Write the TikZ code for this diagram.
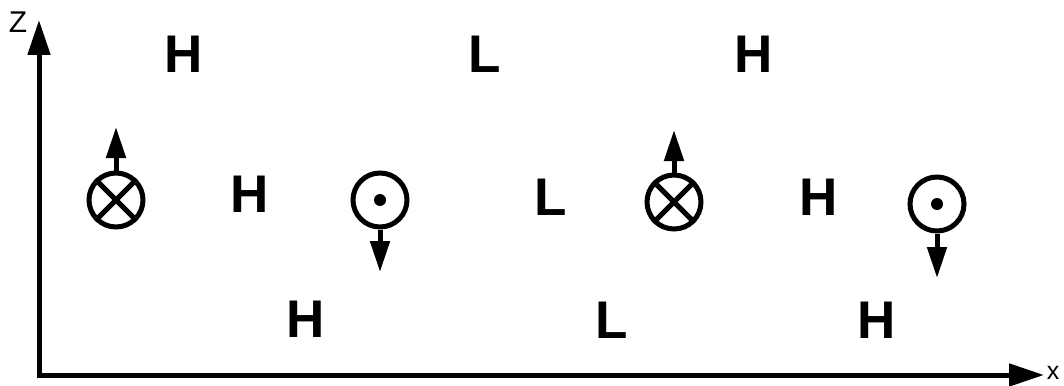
\documentclass[tikz,border=0pt]{standalone}
\usepackage{fontspec}
\setmainfont{Liberation Sans}
\usetikzlibrary{arrows.meta}
\tikzset{
  axis/.style={line width=5pt, -{Triangle[length=35pt,width=22pt]}},
  fieldarrow/.style={line width=5pt, -{Triangle[length=31pt,width=19pt]}},
  ring/.style={circle, draw, line width=5pt, minimum size=54pt, inner sep=0pt},
  big/.style={inner sep=0pt, font=\fontsize{53}{53}\selectfont\bfseries},
  axlabel/.style={inner sep=0pt, font=\fontsize{30}{30}\selectfont},
}
\begin{document}
\begin{tikzpicture}[x=1pt,y=-1pt]
\useasboundingbox (0,0) rectangle (1064,385);
% axes
\coordinate (o) at (39,375);
\coordinate (ztip) at (39,20);
\coordinate (xtip) at (1044,375);
\draw[axis] (o) -- (ztip);
\draw[axis] ([xshift=-2.5pt]o) -- (xtip);
\node[axlabel] (zl) at (18,22) {Z};
\node[axlabel, font=\fontsize{25}{25}\selectfont] (xl) at (1053,373) {x};
% letters
\node[big] (h1) at (184,54) {H};
\node[big] (l1) at (485,54) {L};
\node[big] (h2) at (754,54) {H};
\node[big] (h3) at (250,194) {H};
\node[big] (l2) at (551,197) {L};
\node[big] (h4) at (819,197) {H};
\node[big] (h5) at (306,319) {H};
\node[big] (l3) at (612,320) {L};
\node[big] (h6) at (877,320) {H};
% circles
\node[ring] (c1) at (116,200) {};
\node[ring] (c2) at (380,200) {};
\node[ring] (c3) at (674,202) {};
\node[ring] (c4) at (937,204) {};
\draw[line width=5pt] (c1.north east) -- (c1.south west) (c1.north west) -- (c1.south east);
\draw[line width=5pt] (c3.north east) -- (c3.south west) (c3.north west) -- (c3.south east);
\fill (c2.center) circle (6);
\fill (c4.center) circle (6);
% arrows
\coordinate (a1) at (116,127);
\coordinate (a2) at (380,272);
\coordinate (a3) at (674,130);
\coordinate (a4) at (937,278);
\draw[fieldarrow] (c1.north) -- (a1);
\draw[fieldarrow] (c2.south) -- (a2);
\draw[fieldarrow] (c3.north) -- (a3);
\draw[fieldarrow] (c4.south) -- (a4);
\end{tikzpicture}
\end{document}
